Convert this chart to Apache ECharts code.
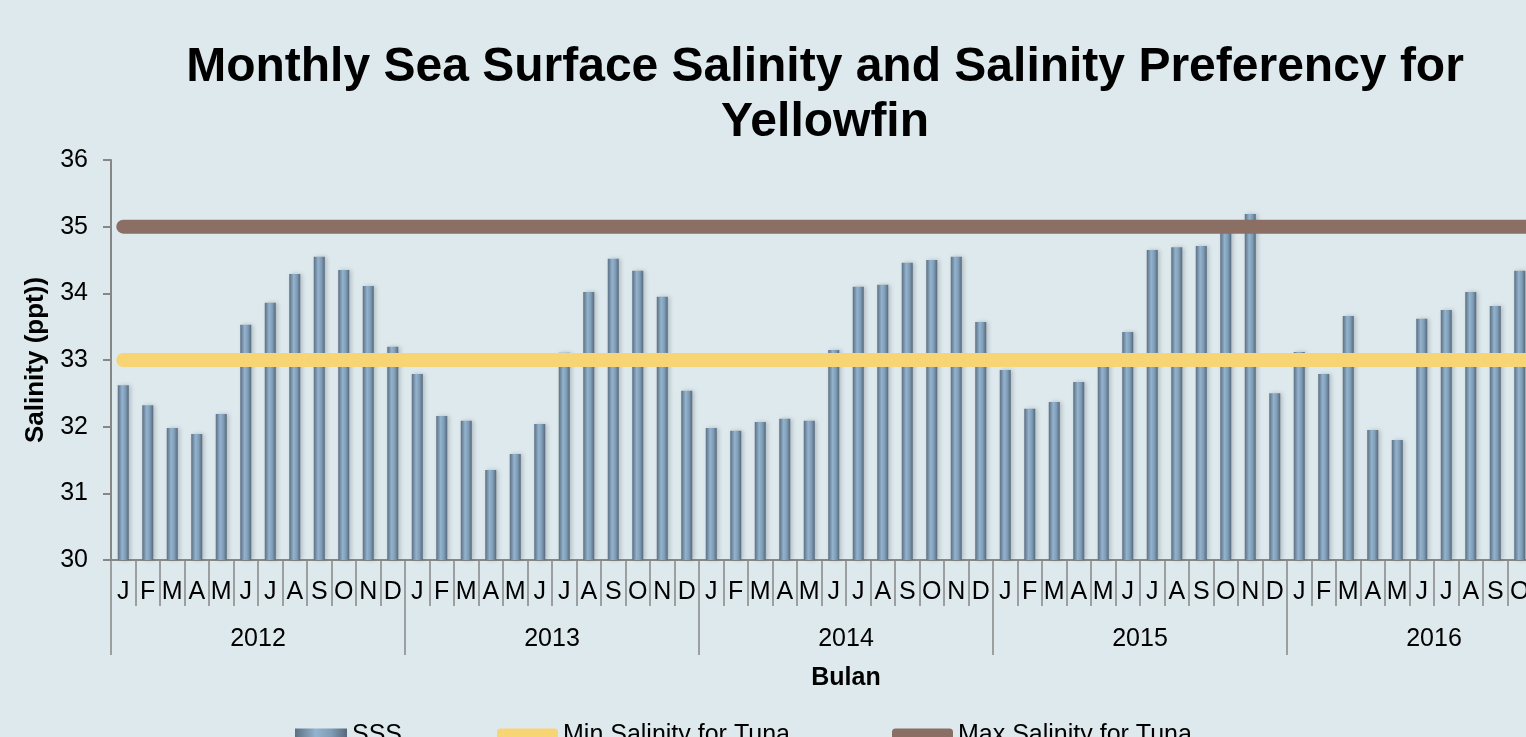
<!DOCTYPE html>
<html>
<head>
<meta charset="utf-8">
<title>Monthly Sea Surface Salinity</title>
<script src="https://cdn.jsdelivr.net/npm/echarts@6/dist/echarts.min.js"></script>
<style>
  html, body {
    margin: 0;
    padding: 0;
    width: 1526px;
    height: 737px;
    overflow: hidden;
    background: #dee9ed;
  }
  /* the source picture is cropped on the right, so the chart runs past the window */
  #chart {
    width: 1700px;
    height: 737px;
  }
</style>
</head>
<body>
<div id="chart"></div>
<script>
const years = ['2012', '2013', '2014', '2015', '2016']
const monthLetters = ['J', 'F', 'M', 'A', 'M', 'J', 'J', 'A', 'S', 'O', 'N', 'D']

// monthly SSS (ppt); Nov/Dec 2016 fall outside the crop
const sss2012 = [32.62, 32.32, 31.98, 31.89, 32.19, 33.53, 33.86, 34.29, 34.55, 34.35, 34.11, 33.2]
const sss2013 = [32.79, 32.16, 32.09, 31.35, 31.59, 32.04, 33.11, 34.02, 34.52, 34.34, 33.95, 32.54]
const sss2014 = [31.98, 31.94, 32.07, 32.12, 32.09, 33.15, 34.1, 34.13, 34.46, 34.5, 34.55, 33.57]
const sss2015 = [32.85, 32.27, 32.37, 32.67, 33.0, 33.42, 34.65, 34.69, 34.71, 35.0, 35.19, 32.5]
const sss2016 = [33.12, 32.79, 33.66, 31.95, 31.8, 33.62, 33.75, 34.02, 33.81, 34.34, null, null]

// salinity preference range for yellowfin tuna
const minSalinityTuna = 33
const maxSalinityTuna = 35

const yTicks = { min: 30, max: 36, interval: 1 }

const months = years.flatMap(() => monthLetters)
const sss = [...sss2012, ...sss2013, ...sss2014, ...sss2015, ...sss2016]

const font = 'Liberation Sans, Arial, sans-serif'
const axisGray = '#878787'
const yellow = '#f8d574'
const brown = '#8c6f64'

const barFill = new echarts.graphic.LinearGradient(0, 0, 1, 0, [
  { offset: 0, color: '#5b6f81' },
  { offset: 0.4, color: '#93b3ce' },
  { offset: 0.7, color: '#7f9cb6' },
  { offset: 1, color: '#55687a' },
])

const legendText = {
  fontFamily: font,
  fontSize: 25,
  color: '#000',
}

function legendAt(left, name, icon, width) {
  return {
    left,
    top: 723,
    padding: 0,
    icon,
    itemWidth: width,
    itemHeight: 14,
    textStyle: legendText,
    data: [name],
  }
}

const chart = echarts.init(document.getElementById('chart'))
chart.setOption({
  backgroundColor: '#dee9ed',
  textStyle: {
    fontFamily: font,
  },
  title: {
    text: 'Monthly Sea Surface Salinity and Salinity Preferency for\nYellowfin',
    left: 825,
    top: 40,
    padding: 0,
    textAlign: 'center',
    textStyle: {
      fontFamily: font,
      fontSize: 48,
      fontWeight: 'bold',
      lineHeight: 55,
      color: '#000',
    },
  },
  legend: [
    legendAt(295, 'SSS', 'rect', 52),
    legendAt(497, 'Min Salinity for Tuna', 'roundRect', 61),
    legendAt(892, 'Max Salinity for Tuna', 'roundRect', 61),
  ],
  grid: {
    left: 111,
    right: 119,
    top: 160,
    bottom: 177,
  },
  xAxis: [
    {
      type: 'category',
      data: months,
      position: 'bottom',
      axisLine: {
        lineStyle: { color: axisGray, width: 2 },
      },
      axisTick: {
        show: true,
        interval: 0,
        length: 46,
        lineStyle: { color: axisGray, width: 1.5 },
      },
      axisLabel: {
        interval: 0,
        margin: 20,
        fontSize: 25,
        color: '#000',
      },
    },
    {
      type: 'category',
      data: years,
      position: 'bottom',
      name: 'Bulan',
      nameLocation: 'middle',
      nameGap: 106,
      nameTextStyle: {
        fontSize: 25,
        fontWeight: 'bold',
        color: '#000',
      },
      axisLine: { show: false },
      axisTick: {
        show: true,
        interval: 0,
        length: 95,
        lineStyle: { color: axisGray, width: 1.5 },
      },
      axisLabel: {
        margin: 67,
        fontSize: 25,
        color: '#000',
      },
    },
  ],
  yAxis: {
    type: 'value',
    min: yTicks.min,
    max: yTicks.max,
    interval: yTicks.interval,
    name: 'Salinity (ppt))',
    nameLocation: 'middle',
    nameGap: 61,
    nameTextStyle: {
      fontSize: 26,
      fontWeight: 'bold',
      color: '#000',
    },
    axisLine: {
      show: true,
      lineStyle: { color: axisGray, width: 2 },
    },
    axisTick: {
      show: true,
      inside: false,
      length: 8,
      lineStyle: { color: axisGray, width: 2 },
    },
    axisLabel: {
      margin: 23,
      fontSize: 25,
      color: '#000',
    },
    splitLine: { show: false },
  },
  series: [
    {
      name: 'SSS',
      type: 'bar',
      xAxisIndex: 0,
      data: sss,
      barWidth: 11,
      itemStyle: {
        color: barFill,
        shadowColor: 'rgba(40, 55, 70, 0.25)',
        shadowBlur: 4,
        shadowOffsetX: 2,
      },
    },
    {
      name: 'Min Salinity for Tuna',
      type: 'line',
      xAxisIndex: 0,
      data: months.map(() => minSalinityTuna),
      showSymbol: false,
      color: yellow,
      lineStyle: { color: yellow, width: 14, cap: 'round' },
    },
    {
      name: 'Max Salinity for Tuna',
      type: 'line',
      xAxisIndex: 0,
      data: months.map(() => maxSalinityTuna),
      showSymbol: false,
      color: brown,
      lineStyle: { color: brown, width: 14, cap: 'round' },
    },
  ],
})
</script>
</body>
</html>
